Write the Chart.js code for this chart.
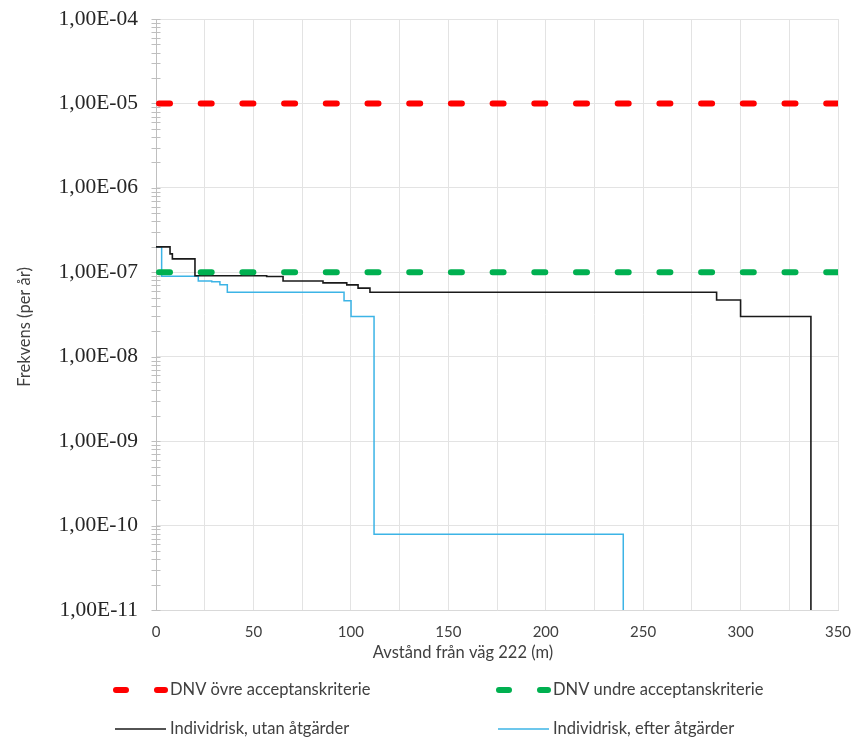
<!DOCTYPE html>
<html>
<head>
<meta charset="utf-8">
<script src="https://cdn.jsdelivr.net/npm/chart.js@4.4.1/dist/chart.umd.min.js"></script>
<style>
  html, body { margin: 0; padding: 0; background: #fff; }
</style>
</head>
<body>
<canvas id="chart1" width="853" height="738"></canvas>
<script>
// individrisk utan åtgärder (step curve, x in m)
const utanX = [0, 7.2, 8.4, 20, 56.8, 65.2, 85.7, 97.9, 103.7, 109.8, 287.7, 300, 336.1];
const utanY = [2.0e-7, 1.65e-7, 1.44e-7, 9.1e-8, 8.9e-8, 7.9e-8, 7.5e-8, 7.1e-8, 6.5e-8, 5.8e-8, 4.7e-8, 3.0e-8, 1e-11];

// individrisk efter åtgärder
const efterX = [0, 2.9, 21.7, 28.6, 32.8, 36.6, 96.5, 100.1, 111.9, 239.8];
const efterY = [2.0e-7, 9.0e-8, 7.9e-8, 7.7e-8, 7.1e-8, 5.8e-8, 4.6e-8, 3.0e-8, 7.9e-11, 1e-11];

// acceptanskriterier
const ovreKrit = 1e-5;
const undreKrit = 1e-7;

const xRange = [0, 350];
const xGrid = [0, 25, 50, 75, 100, 125, 150, 175, 200, 225, 250, 275, 300, 325, 350];
const yDecades = [-11, -10, -9, -8, -7, -6, -5, -4];

const seriesNames = [
  'DNV övre acceptanskriterie',
  'DNV undre acceptanskriterie',
  'Individrisk, utan åtgärder',
  'Individrisk, efter åtgärder'
];
const xTitle = 'Avstånd från väg 222 (m)';
const yTitle = 'Frekvens (per år)';

function pts(xs, ys) {
  return xs.map((x, i) => ({ x: x, y: ys[i] }));
}

const yTicks = [];
yDecades.forEach(e => {
  for (let m = 1; m <= 9; m++) {
    if (e === -4 && m > 1) break;
    yTicks.push(m * Math.pow(10, e));
  }
});

function isDecade(v) {
  const l = Math.log10(v);
  return Math.abs(l - Math.round(l)) < 1e-6;
}
function fmtExp(v) {
  const e = Math.round(Math.log10(v));
  return '1,00E' + (e < 0 ? '-' : '+') + String(Math.abs(e)).padStart(2, '0');
}

const decor = {
  id: 'decor',
  beforeDatasetsDraw(chart) {
    const ctx = chart.ctx, a = chart.chartArea, y = chart.scales.y;
    ctx.save();
    ctx.strokeStyle = '#bfbfbf';
    ctx.lineWidth = 1;
    y.ticks.forEach(t => {
      const py = Math.round(y.getPixelForValue(t.value)) + 0.5;
      ctx.beginPath();
      ctx.moveTo(a.left - 4.5, py);
      ctx.lineTo(a.left + 4.5, py);
      ctx.stroke();
    });
    ctx.restore();
  },
  afterDraw(chart) {
    const ctx = chart.ctx, a = chart.chartArea;
    ctx.save();
    ctx.fillStyle = '#404040';
    ctx.font = '16.5px Lato';
    ctx.textBaseline = 'middle';
    ctx.textAlign = 'center';
    ctx.fillText(xTitle, 463, a.bottom + 43);
    ctx.save();
    ctx.translate(25, 327);
    ctx.rotate(-Math.PI / 2);
    ctx.font = '16.5px Lato';
    ctx.fillText(yTitle, 0, 0);
    ctx.restore();

    // legend, 2 x 2
    const colX = [113, 496];
    const rowY = [690, 729];
    ctx.textAlign = 'left';
    ctx.font = '16.5px Lato';
    chart.data.datasets.forEach((ds, i) => {
      const sx = colX[i % 2], sy = rowY[Math.floor(i / 2)];
      ctx.strokeStyle = ds.borderColor;
      if (ds.borderDash) {
        ctx.lineWidth = ds.borderWidth;
        ctx.lineCap = 'round';
        ctx.beginPath();
        ctx.moveTo(sx + 3, sy); ctx.lineTo(sx + 13, sy);
        ctx.moveTo(sx + 44, sy); ctx.lineTo(sx + 52, sy);
        ctx.stroke();
      } else {
        ctx.lineWidth = 1.5;
        ctx.lineCap = 'butt';
        ctx.beginPath();
        ctx.moveTo(sx + 2, sy); ctx.lineTo(sx + 53, sy);
        ctx.stroke();
      }
      ctx.fillStyle = '#404040';
      ctx.fillText(ds.label, sx + 57, sy);
    });
    ctx.restore();
  }
};

const ctx = document.getElementById('chart1');
new Chart(ctx, {
  type: 'line',
  data: {
    datasets: [
      {
        label: seriesNames[0],
        data: pts(xRange, [ovreKrit, ovreKrit]),
        borderColor: '#ff0000',
        borderWidth: 6,
        borderDash: [11, 30.7],
        borderDashOffset: -3,
        borderCapStyle: 'round',
        pointRadius: 0
      },
      {
        label: seriesNames[1],
        data: pts(xRange, [undreKrit, undreKrit]),
        borderColor: '#00b050',
        borderWidth: 6,
        borderDash: [11, 30.7],
        borderDashOffset: -3,
        borderCapStyle: 'round',
        pointRadius: 0
      },
      {
        label: seriesNames[2],
        data: pts(utanX, utanY),
        borderColor: '#1a1a1a',
        borderWidth: 1.6,
        stepped: true,
        pointRadius: 0
      },
      {
        label: seriesNames[3],
        data: pts(efterX, efterY),
        borderColor: '#3cb4e6',
        borderWidth: 1.5,
        stepped: true,
        pointRadius: 0
      }
    ]
  },
  options: {
    responsive: false,
    animation: false,
    layout: { padding: { top: 19, right: 15, left: 0, bottom: 0 } },
    plugins: {
      legend: { display: false },
      tooltip: { enabled: false }
    },
    scales: {
      x: {
        type: 'linear',
        min: xRange[0],
        max: xRange[1],
        afterBuildTicks: s => { s.ticks = xGrid.map(v => ({ value: v })); },
        afterFit: s => { s.height = 128; },
        ticks: {
          callback: v => (v % 50 === 0 ? v : ''),
          font: { family: 'Lato', size: 15 },
          color: '#404040',
          padding: 0,
          maxRotation: 0,
          autoSkip: false
        },
        grid: { color: '#e3e3e3', drawTicks: true, tickLength: 13, tickColor: 'rgba(0,0,0,0)' },
        border: { color: '#d9d9d9' }
      },
      y: {
        type: 'logarithmic',
        min: 1e-11,
        max: 1e-4,
        afterBuildTicks: s => { s.ticks = yTicks.map(v => ({ value: v })); },
        afterFit: s => { s.width = 156; },
        ticks: {
          callback: v => (isDecade(v) ? fmtExp(v) : ''),
          font: { family: 'Liberation Serif', size: 21.5 },
          color: '#262626',
          padding: 0,
          autoSkip: false
        },
        grid: {
          color: c => (c.tick && isDecade(c.tick.value) ? '#e3e3e3' : 'rgba(0,0,0,0)'),
          drawTicks: true,
          tickLength: 18,
          tickColor: 'rgba(0,0,0,0)'
        },
        border: { color: '#bfbfbf' }
      }
    }
  },
  plugins: [decor]
});
</script>
</body>
</html>
